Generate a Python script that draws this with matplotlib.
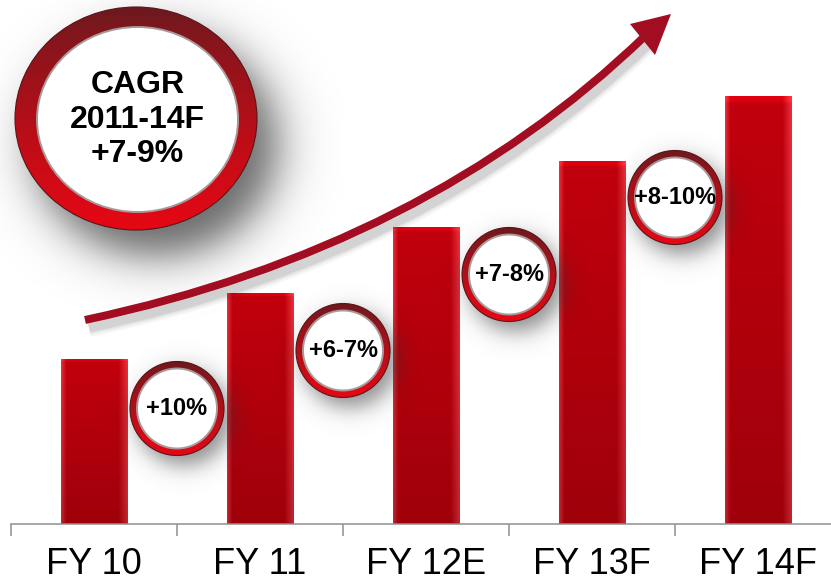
import numpy as np
import matplotlib
matplotlib.use("Agg")
from matplotlib import pyplot as plt
from matplotlib.patches import Ellipse, Polygon, PathPatch
from matplotlib.path import Path
from matplotlib.transforms import Affine2D

categories = ["FY 10", "FY 11", "FY 12E", "FY 13F", "FY 14F"]
values = [165, 231, 297, 363, 428]
growth_labels = ["+10%", "+6-7%", "+7-8%", "+8-10%"]
cagr_label = "CAGR\n2011-14F\n+7-9%"

W, H = 831, 584
BAR_RED = "#C0000E"
ARROW_RED = "#A30D22"
RING_DARK = np.array([0.42, 0.10, 0.12])
RING_BRIGHT = np.array([0.90, 0.03, 0.08])
BADGE_DROP = [50, 58, 48, 37]  # how far each badge sits below the bar top it follows
BADGE_R = 47

plt.rcParams["font.family"] = ["Liberation Sans", "DejaVu Sans"]


def bar_image(n=120):
    u = np.linspace(0, 1, n)[None, :]
    v = np.linspace(0, 1, n)[:, None]
    core = np.array([0.76, 0.0, 0.05])
    edge = np.array([0.95, 0.22, 0.26])
    w = np.clip(np.maximum((0.08 - u) / 0.08, (u - 0.86) / 0.14), 0, 1) * 0.85
    shade = 0.82 + 0.18 * v
    img = (core * (1 - w[..., None]) + edge * w[..., None]) * shade[..., None]
    img[-2:, :, :] = np.clip(img[-2:, :, :] * 1.15, 0, 1)
    return img


def ring_image(n=64):
    t = np.linspace(0, 1, n)[:, None, None] ** 0.8
    img = RING_DARK * (1 - t) + RING_BRIGHT * t
    return np.repeat(img, n, axis=1)


def soft_shadow(axo, cx, cy, rx, ry, blur, alpha, dx, dy):
    pad = 3 * blur
    n = 160
    xs = np.linspace(cx + dx - rx - pad, cx + dx + rx + pad, n)
    ys = np.linspace(cy + dy - ry - pad, cy + dy + ry + pad, n)
    X, Y = np.meshgrid(xs, ys)
    d = (np.hypot((X - cx - dx) / rx, (Y - cy - dy) / ry) - 1) * min(rx, ry)
    img = np.zeros((n, n, 4))
    img[..., :3] = 0.2
    img[..., 3] = alpha / (1 + np.exp(d / blur * 1.7))
    axo.imshow(img, extent=(xs[0], xs[-1], ys[-1], ys[0]), origin="upper",
               aspect="auto", zorder=1, interpolation="bilinear")


def badge(axo, cx, cy, rx, ry, ring, label, size, shadow):
    soft_shadow(axo, cx, cy, rx, ry, *shadow)
    outer = Ellipse((cx, cy), 2 * rx, 2 * ry, facecolor="none", edgecolor="none", zorder=3)
    axo.add_patch(outer)
    im = axo.imshow(ring_image(), extent=(cx - rx, cx + rx, cy + ry, cy - ry), origin="upper",
                    aspect="auto", zorder=3, interpolation="bilinear")
    im.set_clip_path(outer)
    axo.add_patch(Ellipse((cx, cy), 2 * rx, 2 * ry, facecolor="none",
                          edgecolor="#5A1418", lw=0.8, zorder=4))
    ix, iy = cx + ring[0], cy + ring[1]
    axo.add_patch(Ellipse((ix, iy), 2 * (rx - ring[2]), 2 * (ry - ring[3]),
                          facecolor="white", edgecolor="#A89A9A", lw=1.4, zorder=5))
    axo.text(ix, iy, label, ha="center", va="center", fontsize=size,
             fontweight="bold", color="black", zorder=6, linespacing=1.2)


fig = plt.figure(figsize=(W / 100, H / 100), dpi=100)
ax = fig.add_axes([11 / W, 60.5 / H, 830 / W, 523.5 / H])
x = np.arange(len(categories))
bars = ax.bar(x, values, width=0.4, color=BAR_RED, edgecolor="#B3202C", linewidth=0.6, zorder=2)
shade = bar_image()
for rect in bars:
    x0 = rect.get_x()
    im = ax.imshow(shade, extent=(x0, x0 + rect.get_width(), 0, rect.get_height()),
                   origin="lower", aspect="auto", zorder=2, interpolation="bilinear")
    im.set_clip_path(rect)

ax.set_xlim(-0.5, 4.5)
ax.set_ylim(0, 523.5)
ax.set_xticks(x)
ax.set_xticklabels(categories, fontsize=26)
ax.set_xticks(np.arange(-0.5, 5.0, 1.0), minor=True)
ax.tick_params(axis="x", which="major", length=0, pad=17)
ax.tick_params(axis="x", which="minor", length=8.6, width=1.1, color="#8F8F8F")
ax.set_yticks([])
for side in ("top", "left", "right"):
    ax.spines[side].set_visible(False)
ax.spines["bottom"].set_color("#8F8F8F")
ax.spines["bottom"].set_linewidth(1.1)
ax.patch.set_alpha(0)

# overlay in pixel coordinates (top-down) for the decorations
axo = fig.add_axes([0, 0, 1, 1])
axo.patch.set_alpha(0)
axo.axis("off")

# rising arrow with a soft shadow
curve = Path([(85, 320), (425, 248), (645, 36)], [Path.MOVETO, Path.CURVE3, Path.CURVE3])
for lw, a in [(18, 0.04), (13, 0.06), (9, 0.08)]:
    axo.add_patch(PathPatch(curve.transformed(Affine2D().translate(4, 8)),
                            fill=False, lw=lw * 0.72, edgecolor="black", alpha=a,
                            capstyle="butt", zorder=1))
axo.add_patch(PathPatch(curve, fill=False, lw=8 * 0.72, edgecolor=ARROW_RED,
                        capstyle="butt", zorder=2))
axo.add_patch(Polygon([(671, 14), (630, 24), (655, 55)], closed=True,
                      facecolor=ARROW_RED, edgecolor="none", zorder=2))

# growth badges between bars
for i, label in enumerate(growth_labels):
    px, py = ax.transData.transform((i + 0.5, values[i] - BADGE_DROP[i]))
    badge(axo, px, H - py, BADGE_R, BADGE_R, (0, 0, 7, 7), label, 17,
          (11, 0.55, 7, 10))

# CAGR badge
badge(axo, 136, 118.5, 121, 111.5, (1.5, 1, 20.5, 19), cagr_label, 23,
      (22, 0.75, 20, 26))

axo.set_xlim(0, W)
axo.set_ylim(H, 0)

fig.savefig("out.png", dpi=100)
